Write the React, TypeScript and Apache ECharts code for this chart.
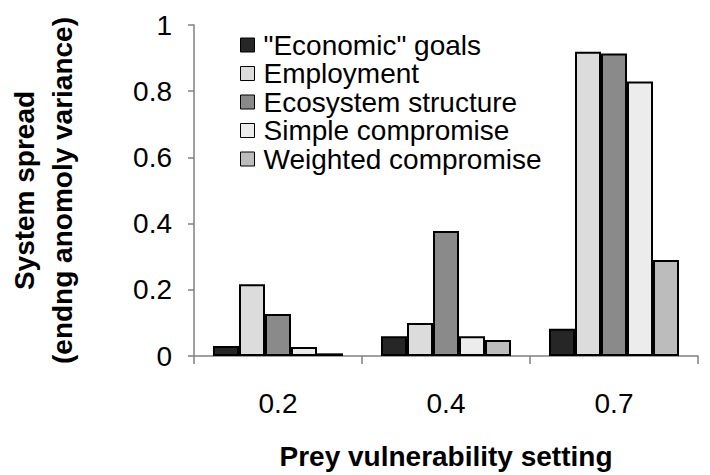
import React, { useEffect, useRef } from "react";
import * as echarts from "echarts";

const categories = ["0.2", "0.4", "0.7"];
const seriesNames = [
  '"Economic" goals',
  "Employment",
  "Ecosystem structure",
  "Simple compromise",
  "Weighted compromise",
];
const economic = [0.03, 0.06, 0.082];
const employment = [0.217, 0.1, 0.919];
const ecosystem = [0.127, 0.378, 0.914];
const simple = [0.027, 0.06, 0.829];
const weighted = [0.008, 0.048, 0.29];
const yTicks = [0, 0.2, 0.4, 0.6, 0.8, 1];

const seriesValues = [economic, employment, ecosystem, simple, weighted];
const seriesColors = ["#262626", "#dcdcdc", "#8a8a8a", "#ececec", "#bcbcbc"];

const FONT = "Liberation Sans, Arial, sans-serif";

export default function App() {
  const ref = useRef<HTMLDivElement>(null);
  useEffect(() => {
    if (!ref.current) return;
    document.body.style.margin = "0";
    const chart = echarts.init(ref.current, undefined, { renderer: "svg" });
    chart.setOption({
      animation: false,
      backgroundColor: "#ffffff",
      textStyle: { fontFamily: FONT },
      grid: {
        left: 194,
        right: 12,
        top: 25,
        bottom: 119,
        containLabel: false,
        outerBoundsMode: "none",
      },
      legend: {
        orient: "vertical",
        left: 240,
        top: 31,
        padding: 0,
        itemWidth: 14,
        itemHeight: 14,
        itemGap: 0.5,
        data: seriesNames,
        textStyle: {
          fontSize: 28,
          lineHeight: 27,
          color: "#000",
          fontFamily: FONT,
          padding: [0, 0, 0, 4],
        },
        icon: "rect",
        itemStyle: { borderColor: "#000", borderWidth: 1 },
      },
      xAxis: {
        type: "category",
        data: categories,
        axisLine: { lineStyle: { color: "#808080", width: 1.5 } },
        axisTick: { show: true, length: 8, lineStyle: { color: "#808080", width: 1.5 } },
        axisLabel: { fontSize: 28, color: "#000", margin: 33, fontFamily: FONT },
        name: "Prey vulnerability setting",
        nameLocation: "middle",
        nameGap: 86,
        nameTextStyle: { fontSize: 28, fontWeight: "bold", color: "#000", fontFamily: FONT },
      },
      yAxis: {
        type: "value",
        min: 0,
        max: 1,
        interval: 0.2,
        splitLine: { show: false },
        axisLine: { show: true, lineStyle: { color: "#808080", width: 1.5 } },
        axisTick: { show: true, length: 6, lineStyle: { color: "#808080", width: 1.5 } },
        axisLabel: {
          fontSize: 28,
          color: "#000",
          margin: 22,
          fontFamily: FONT,
          formatter: (v: number) => {
            const t = yTicks.find((x) => Math.abs(x - v) < 1e-9);
            return t === undefined ? "" : String(t);
          },
        },
        name: "System spread\n(endng anomoly variance)",
        nameLocation: "middle",
        nameGap: 113,
        nameRotate: 90,
        nameTextStyle: {
          fontSize: 28,
          fontWeight: "bold",
          color: "#000",
          fontFamily: FONT,
          lineHeight: 38,
        },
      },
      series: seriesNames.map((name, i) => ({
        name,
        type: "bar",
        data: seriesValues[i],
        barGap: "0%",
        barCategoryGap: "22.6%",
        itemStyle: { color: seriesColors[i], borderColor: "#000", borderWidth: 2 },
      })),
    });
    return () => chart.dispose();
  }, []);
  return <div ref={ref} style={{ width: 710, height: 475 }} />;
}
